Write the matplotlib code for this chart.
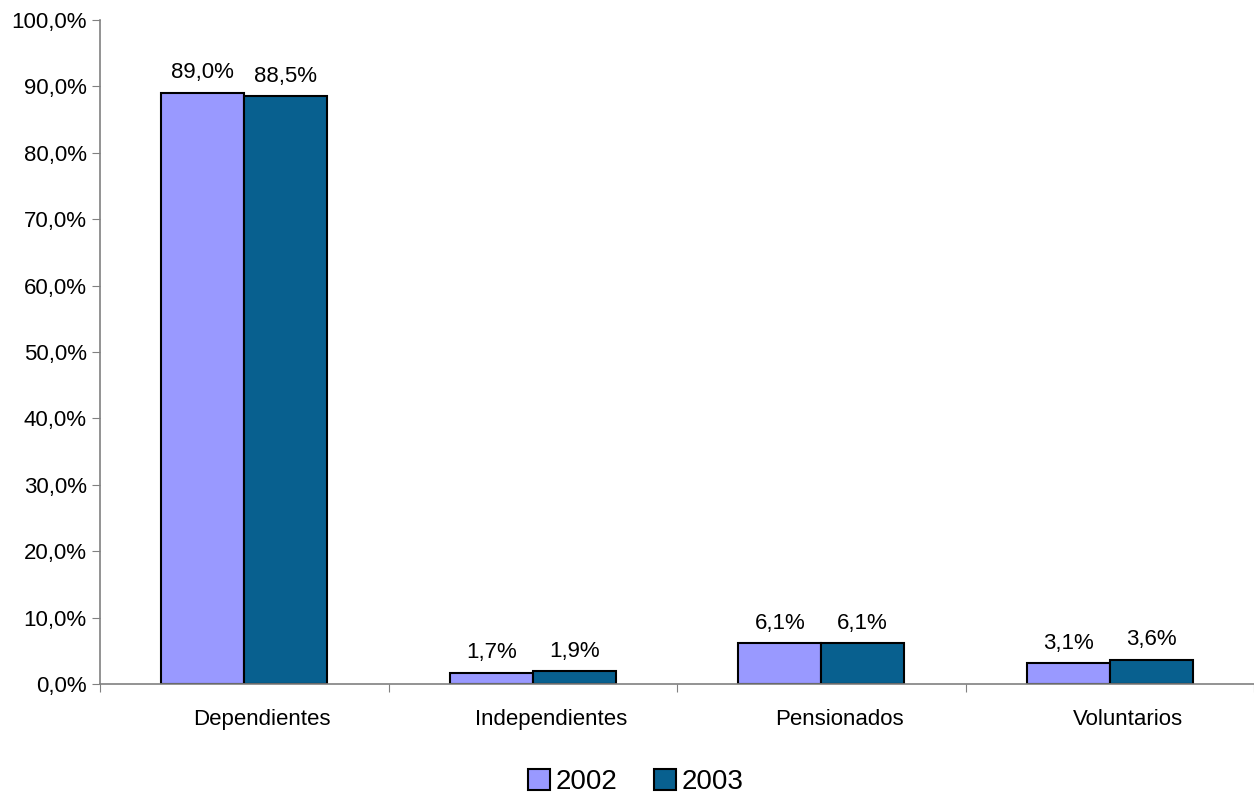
import matplotlib.pyplot as plt
import matplotlib.transforms as mtransforms
import numpy as np
from matplotlib.ticker import FuncFormatter

plt.rcParams['font.family'] = ['Liberation Sans', 'DejaVu Sans']

categories = ["Dependientes", "Independientes", "Pensionados", "Voluntarios"]
years = ["2002", "2003"]
values_2002 = [89.0, 1.7, 6.1, 3.1]
values_2003 = [88.5, 1.9, 6.1, 3.6]
colors = ["#9999FF", "#08608F"]


def pct(v):
    return ("%.1f%%" % v).replace(".", ",")


fig = plt.figure(figsize=(12.54, 7.93), dpi=100)
ax = fig.add_axes([100/1254, 109/793, 1154/1254, 664/793])

x = np.arange(len(categories))
w = 0.287
for i, (vals, yr) in enumerate(zip([values_2002, values_2003], years)):
    pos = x + (i - 0.5) * w
    bars = ax.bar(pos, vals, w, color=colors[i], edgecolor="black", linewidth=1.5, label=yr)
    for b, v in zip(bars, vals):
        ax.annotate(pct(v), (b.get_x() + b.get_width()/2, v), xytext=(0, 7),
                    textcoords="offset points", ha="center", va="bottom", fontsize=16)

ax.set_ylim(0, 100)
ax.set_yticks(np.arange(0, 101, 10))
ax.yaxis.set_major_formatter(FuncFormatter(lambda v, p: pct(v)))
ax.set_xlim(-0.5, 3.5)
ax.set_xticks(np.arange(-0.5, 3.6, 1))
ax.set_xticklabels([])
ax.set_xticks(x, minor=True)
ax.set_xticklabels(categories, minor=True)
ax.tick_params(axis="x", which="minor", length=0, pad=18, labelsize=16)
ax.tick_params(axis="x", which="major", length=6, color="#808080")
ax.tick_params(axis="y", length=6, color="#808080", labelsize=16)

# category labels sit slightly right of the group centre, like the original
shift = mtransforms.ScaledTranslation(18/100, 0, fig.dpi_scale_trans)
for lbl in ax.get_xticklabels(minor=True):
    lbl.set_transform(lbl.get_transform() + shift)

for s in ["top", "right"]:
    ax.spines[s].set_visible(False)
for s in ["left", "bottom"]:
    ax.spines[s].set_color("#808080")
    ax.spines[s].set_linewidth(1.2)

fig.legend(loc="lower center", bbox_to_anchor=(0.507, -0.013), ncol=2, frameon=False,
           borderaxespad=0.1, borderpad=0.2,
           fontsize=20, handlelength=0.8, handleheight=0.8, handletextpad=0.2, columnspacing=1.3)

fig.savefig("out.png", dpi=100)
